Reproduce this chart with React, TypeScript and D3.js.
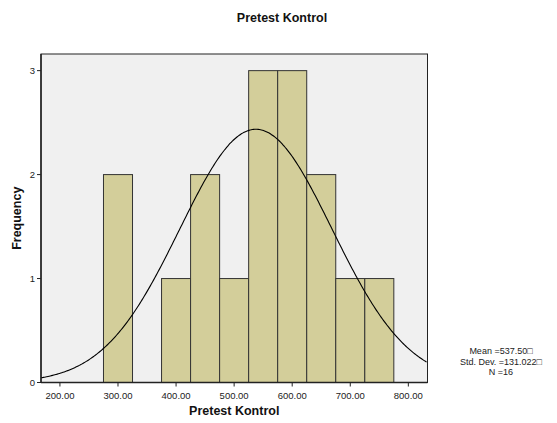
import React from "react";
import * as d3 from "d3";

// histogram bins (lower edge), counts, and summary stats
const binStarts = [275, 325, 375, 425, 475, 525, 575, 625, 675, 725];
const binCounts = [2, 0, 1, 2, 1, 3, 3, 2, 1, 1];
const binWidth = 50;
const xTicks = [200, 300, 400, 500, 600, 700, 800];
const yTicks = [0, 1, 2, 3];
const meanVal = 537.5;
const sdVal = 131.022;
const nVal = 16;
const statLines = ["Mean =537.50\u25A1", "Std. Dev. =131.022\u25A1", "N =16"];

const W = 557, H = 423;
const plot = { left: 41, top: 54, right: 427.5, bottom: 382.5 };

export default function App() {
    const x = d3.scaleLinear().domain([167.4, 833]).range([plot.left, plot.right]);
    const y = d3.scaleLinear().domain([0, 3.16]).range([plot.bottom, plot.top]);

    // normal curve scaled to counts
    const scale = nVal * binWidth;
    const curvePts = d3.range(167.4, 833.01, 2).map(v => [v, scale * (1 / (sdVal * Math.sqrt(2 * Math.PI))) * Math.exp(-0.5 * ((v - meanVal) / sdVal) ** 2)] as [number, number]);
    const line = d3.line<[number, number]>().x(d => x(d[0])).y(d => y(d[1])).curve(d3.curveBasis);

    const font = "Arial, 'Liberation Sans', sans-serif";

    return (
        <svg width={W} height={H} style={{ position: "absolute", left: 0, top: 0 }} fontFamily={font}>
            <rect x={0} y={0} width={W} height={H} fill="#fff" />
            <text x={282} y={22} textAnchor="middle" fontSize={12.5} fontWeight="bold" fill="#111">Pretest Kontrol</text>

            <rect x={plot.left} y={plot.top} width={plot.right - plot.left} height={plot.bottom - plot.top} fill="#f0f0f0" stroke="#222" strokeWidth={1} />

            {binStarts.map((s, i) => binCounts[i] > 0 && (
                <rect key={i} x={x(s)} y={y(binCounts[i])} width={x(s + binWidth) - x(s)} height={plot.bottom - y(binCounts[i])}
                    fill="#d3ce9a" stroke="#333" strokeWidth={1} />
            ))}

            <path d={line(curvePts) || ""} fill="none" stroke="#000" strokeWidth={1.1} />

            {/* axes */}
            <line x1={plot.left} x2={plot.left} y1={plot.top} y2={plot.bottom} stroke="#222" strokeWidth={1.5} />
            <line x1={plot.left} x2={plot.right} y1={plot.bottom} y2={plot.bottom} stroke="#222" strokeWidth={1.5} />

            {yTicks.map(t => (
                <g key={t}>
                    <line x1={plot.left - 4} x2={plot.left} y1={y(t)} y2={y(t)} stroke="#222" />
                    <text x={plot.left - 6} y={y(t) + 3.5} textAnchor="end" fontSize={9.5} fill="#222">{t}</text>
                </g>
            ))}
            {xTicks.map(t => (
                <g key={t}>
                    <line x1={x(t)} x2={x(t)} y1={plot.bottom} y2={plot.bottom + 4} stroke="#222" />
                    <text x={x(t)} y={plot.bottom + 16} textAnchor="middle" fontSize={9.5} fill="#222">{t.toFixed(2)}</text>
                </g>
            ))}

            <text x={(plot.left + plot.right) / 2} y={415} textAnchor="middle" fontSize={12.5} fontWeight="bold" fill="#111">Pretest Kontrol</text>
            <text transform={`translate(21, ${(plot.top + plot.bottom) / 2}) rotate(-90)`} textAnchor="middle" fontSize={12.5} fontWeight="bold" fill="#111">Frequency</text>

            {statLines.map((s, i) => (
                <text key={i} x={501} y={354 + i * 10.7} textAnchor="middle" fontSize={9} fill="#222">{s}</text>
            ))}
        </svg>
    );
}
